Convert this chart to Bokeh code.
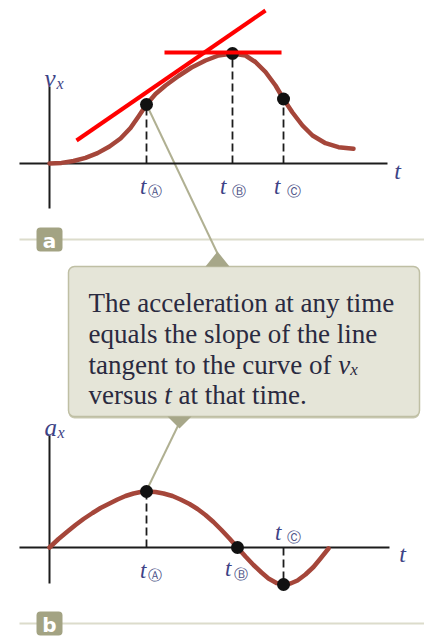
from bokeh.plotting import figure
from bokeh.models import Range1d
from bokeh.core.properties import value
from bokeh.embed import file_html
from bokeh.resources import INLINE

# ---- data (time in units where t_A = 2) ----
vx_t = [0, 0.247, 0.495, 0.742, 0.990, 1.237, 1.464, 1.670, 1.835, 2.0,
        2.186, 2.392, 2.660, 2.928, 3.216, 3.485, 3.773, 4.041, 4.247, 4.454,
        4.660, 4.825, 5.010, 5.216, 5.423, 5.691, 5.959, 6.268]
vx_v = [0, 0.06, 0.25, 0.57, 1.04, 1.7, 2.5, 3.55, 4.7, 5.9,
        6.95, 7.8, 8.75, 9.6, 10.3, 10.8, 11.0, 10.8, 10.15, 9.15,
        7.8, 6.45, 5.1, 3.8, 2.8, 2.03, 1.63, 1.47]

ax_t = [0, 0.186, 0.371, 0.536, 0.701, 0.887, 1.052, 1.237, 1.402, 1.567,
        1.732, 1.876, 2.0, 2.186, 2.351, 2.536, 2.701, 2.887, 3.052, 3.216,
        3.381, 3.546, 3.711, 3.876, 4.041, 4.206, 4.371, 4.515, 4.680, 4.825,
        4.969, 5.113, 5.278, 5.443, 5.588, 5.753]
ax_a = [0, 0.85, 1.6, 2.25, 2.85, 3.45, 3.95, 4.4, 4.8, 5.15,
        5.4, 5.55, 5.6, 5.55, 5.4, 5.15, 4.8, 4.35, 3.85, 3.25,
        2.55, 1.75, 0.9, 0, -0.9, -1.75, -2.5, -3.1, -3.55, -3.7,
        -3.6, -3.3, -2.7, -1.95, -1.1, -0.1]

mark_names = ["\u24b6", "\u24b7", "\u24b8"]
vx_mark_t = [2.0, 3.773, 4.825]
vx_mark_v = [5.9, 11.0, 6.45]
ax_mark_t = [2.0, 3.876, 4.825]
ax_mark_a = [5.6, 0.0, -3.7]

# tangent lines on the v_x curve
tangent_t = [[0.557, 4.454], [2.371, 4.784]]
tangent_v = [[2.3, 15.3], [11.1, 11.1]]

callout_lines = ["The acceleration at any time",
                 "equals the slope of the line",
                 "tangent to the curve of",
                 "versus"]

CURVE = "#a5463a"
AXIS = "#1c1c1c"
LABEL = "#3d4386"
TEXT = "#2a2a40"
OLIVE = "#a7a789"
SERIF = value("Liberation Serif")

p = figure(width=424, height=637, x_range=Range1d(0, 424), y_range=Range1d(637, 0),
           output_backend="svg", toolbar_location=None, min_border=0,
           x_axis_location=None, y_axis_location=None)
p.grid.visible = False
p.outline_line_color = None
p.background_fill_color = "white"
p.border_fill_color = "white"

# pixel-like layout coordinates on the default ranges; plot data on its own scales
p.extra_x_ranges = {"t": Range1d(-49 / 48.5, 375 / 48.5)}
p.extra_y_ranges = {"v": Range1d(-47.4, 16.3), "a": Range1d(-9.0, 54.7)}

# panel separators with their letter tags
p.segment(x0=[19, 19], y0=[239, 623], x1=[424, 424], y1=[239, 623],
          line_color="#dcdccb", line_width=2)
p.quad(left=[36, 36], right=[62, 62], top=[227, 611], bottom=[251, 635],
       fill_color="#a3a383", line_color=None, border_radius=4)
p.text(x=[49, 49], y=[240, 624], text=["a", "b"], text_color="white",
       text_font=value("DejaVu Sans"), text_font_style="bold", text_font_size="20px",
       text_align="center", text_baseline="middle")

# connectors from the callout to the A points
p.segment(x0=[146, 181], y0=[104, 418], x1=[217, 147], y1=[253, 488],
          line_color="#b0b092", line_width=2)

# callout box
p.quad(left=68, right=419, top=268, bottom=418, fill_color="#c9c9b2",
       line_color=None, border_radius=6)
p.quad(left=68, right=419, top=266, bottom=416, fill_color="#e5e5d8",
       line_color="#bfbfa4", line_width=1.5, border_radius=6)
p.patches(xs=[[205, 229, 217], [167, 191, 179]], ys=[[266, 266, 251], [416, 416, 428]],
          fill_color=OLIVE, line_color=None)

# callout text
p.text(x=[88, 88, 88, 88], y=[302, 333, 364, 394], text=callout_lines,
       text_font=SERIF, text_font_size="27px", text_color=TEXT,
       text_baseline="alphabetic", text_align="left")
p.text(x=[337.7, 163.7], y=[364, 394], text=["v", "t"],
       text_font=SERIF, text_font_style="italic", text_font_size="27px",
       text_color=TEXT, text_baseline="alphabetic")
p.text(x=[349.7], y=[369], text=["x"], text_font=SERIF, text_font_style="italic",
       text_font_size="17px", text_color=TEXT, text_baseline="alphabetic")
p.text(x=[178.0], y=[394], text=["at that time."], text_font=SERIF,
       text_font_size="27px", text_color=TEXT, text_baseline="alphabetic")

# ---------- top panel: v_x versus t ----------
top = dict(x_range_name="t", y_range_name="v")
p.segment(x0=[-0.619, 0], y0=[0, 7.7], x1=[6.969, 0], y1=[0, -4.5],
          line_color=AXIS, line_width=2, **top)
p.segment(x0=vx_mark_t, y0=[0, 0, 0], x1=vx_mark_t, y1=vx_mark_v,
          line_color=AXIS, line_width=1.8, line_dash="8 4", **top)
p.line(vx_t, vx_v, line_color=CURVE, line_width=4.5, line_join="round",
       line_cap="round", **top)
p.scatter(vx_mark_t, vx_mark_v, size=13, fill_color="#111111", line_color=None, **top)
p.multi_line(tangent_t, tangent_v, line_color="#ff0000", line_width=4, **top)

# ---------- bottom panel: a_x versus t ----------
bot = dict(x_range_name="t", y_range_name="a")
p.segment(x0=[-0.619, 0], y0=[0, 11.2], x1=[7.01, 0], y1=[0, -3.6],
          line_color=AXIS, line_width=2, **bot)
p.segment(x0=ax_mark_t, y0=[0, 0, 0], x1=ax_mark_t, y1=ax_mark_a,
          line_color=AXIS, line_width=1.8, line_dash="8 4", **bot)
p.line(ax_t, ax_a, line_color=CURVE, line_width=4.5, line_join="round",
       line_cap="round", **bot)
p.scatter(ax_mark_t, ax_mark_a, size=13, fill_color="#111111", line_color=None, **bot)

# axis titles
p.text(x=[44, 44], y=[78, 427], text=["v", "a"], text_font=SERIF,
       text_font_style="italic", text_font_size="25px", text_color=LABEL,
       text_baseline="alphabetic")
p.text(x=[56, 57], y=[83, 432], text=["x", "x"], text_font=SERIF,
       text_font_style="italic", text_font_size="16px", text_color=LABEL,
       text_baseline="alphabetic")
p.text(x=[397, 402], y=[170, 553], text=["t", "t"], text_font=SERIF,
       text_font_style="italic", text_font_size="24px", text_color=LABEL,
       text_align="center", text_baseline="alphabetic")

# time labels t_A, t_B, t_C
p.text(x=[146, 226, 280, 146, 231, 281], y=[186, 186, 186, 570, 568, 532],
       text=["t"] * 6, text_font=SERIF, text_font_style="italic",
       text_font_size="23px", text_color=LABEL, text_align="right",
       text_baseline="alphabetic")
p.text(x=[147, 231, 286, 147, 233, 286], y=[190, 190, 190, 574, 573, 536],
       text=mark_names * 2, text_font=value("DejaVu Sans"), text_font_size="14px",
       text_color="#4a4f85", text_align="left", text_baseline="alphabetic")

open("out.html", "w").write(file_html(p, INLINE))
